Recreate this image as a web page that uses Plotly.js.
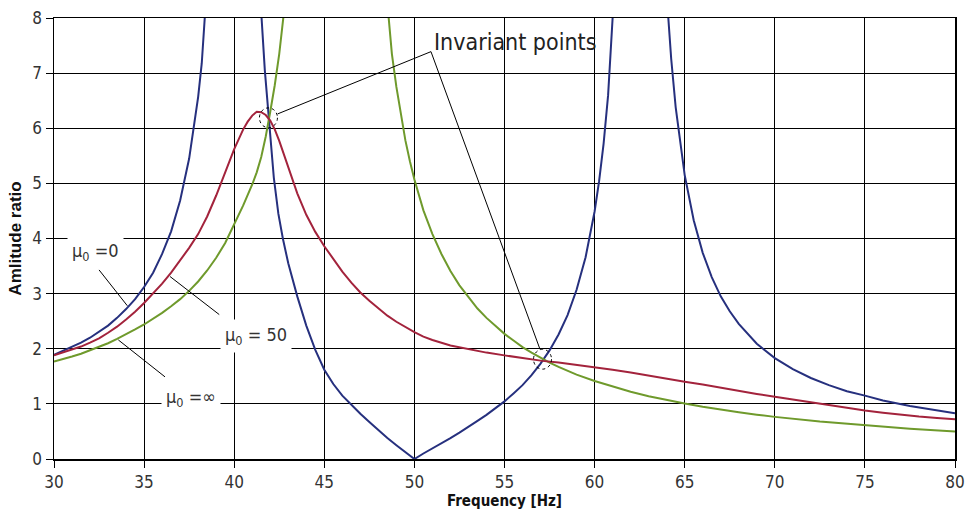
<!DOCTYPE html>
<html>
<head>
<meta charset="utf-8">
<script src="https://cdn.plot.ly/plotly-3.0.1.min.js"></script>
<style>html,body{margin:0;padding:0;background:#fff;}#chart{width:967px;height:513px;}</style>
</head>
<body>
<div id="chart"></div>
<script>
// Frequency values (Hz) and amplitude ratios
const xMu0 = [30,30.5,31,31.5,32,32.5,33,33.5,34,34.5,35,35.5,36,36.5,37,37.5,38,38.2,38.5,38.8,39,null,
  41.35,41.5,41.7,41.9,42.0,42.1,42.2,42.45,42.7,43.0,43.5,44,44.5,45,45.5,46,46.5,47,47.5,48,48.5,49,49.5,50,
  50.5,51,51.5,52,52.5,53,53.5,54,54.5,55,55.5,56,56.5,57,57.5,58,58.5,59,59.5,60,60.25,60.5,60.75,61,61.25,61.5,null,
  63.5,63.75,64,64.25,64.5,65,65.5,66,66.5,67,67.5,68,69,70,71,72,73,74,75,76,77.5,78.75,80];
const yMu0 = [1.89,1.96,2.03,2.11,2.20,2.31,2.42,2.56,2.72,2.90,3.12,3.38,3.72,4.13,4.69,5.45,6.57,7.18,8.39,10.15,11.86,null,
  9.2,8.1,7.05,6.2,5.82,5.45,5.1,4.45,4.0,3.55,2.95,2.42,1.98,1.62,1.36,1.15,0.98,0.82,0.67,0.52,0.38,0.25,0.12,0,
  0.10,0.19,0.29,0.38,0.48,0.58,0.69,0.80,0.92,1.045,1.19,1.34,1.52,1.73,1.97,2.26,2.61,3.07,3.66,4.49,5.04,5.72,6.6,7.77,9.4,11.85,null,
  12.5,10.05,8.42,7.26,6.38,5.15,4.33,3.74,3.30,2.95,2.68,2.45,2.09,1.83,1.63,1.47,1.34,1.23,1.15,1.06,0.96,0.89,0.83];

const xMu50 = [30,30.5,31,31.5,32,32.5,33,33.5,34,34.5,35,35.5,36,36.5,37,37.5,38,38.5,39,39.5,40,40.5,40.75,41,41.25,41.5,41.75,42,42.25,42.5,42.75,43,43.5,44,44.5,45,45.5,46,46.5,47,47.5,48,48.5,49,49.5,50,50.5,51,52,53,54,55,56,57.1,58,59,60,61,62,63,64,65,66,67,68,69,70,71,72,73,74,75,76,77,78,79,80];
const yMu50 = [1.88,1.93,1.98,2.04,2.11,2.19,2.29,2.40,2.53,2.67,2.83,3.00,3.18,3.38,3.60,3.83,4.08,4.40,4.78,5.20,5.62,5.98,6.12,6.23,6.30,6.29,6.24,6.14,5.98,5.77,5.53,5.28,4.82,4.43,4.12,3.86,3.62,3.40,3.20,3.02,2.87,2.73,2.60,2.49,2.39,2.30,2.22,2.16,2.06,1.99,1.93,1.88,1.83,1.78,1.75,1.71,1.67,1.62,1.57,1.51,1.46,1.40,1.35,1.29,1.24,1.18,1.13,1.08,1.03,0.98,0.92,0.88,0.84,0.80,0.77,0.745,0.72];

const xMuInf = [30,30.5,31,31.5,32,32.5,33,33.5,34,34.5,35,35.5,36,36.5,37,37.5,38,38.5,39,39.5,40,40.5,41,41.25,41.5,41.75,42,42.25,42.5,42.75,43,43.25,null,
  48.3,48.55,48.75,49,49.25,49.5,49.75,50,50.5,51,51.5,52,52.5,53,53.5,54,54.5,55,55.5,56,56.5,57,57.5,58,59,60,61,62,63,64,65,66,67,68,69,70,72.5,75,77.5,80];
const yMuInf = [1.77,1.81,1.86,1.91,1.97,2.03,2.10,2.18,2.26,2.35,2.44,2.54,2.65,2.77,2.90,3.05,3.22,3.42,3.65,3.92,4.25,4.6,4.98,5.2,5.48,5.85,6.3,6.78,7.35,8.0,8.8,9.8,null,
  9.0,8.0,7.35,6.75,6.22,5.78,5.4,5.07,4.51,4.08,3.72,3.41,3.15,2.93,2.73,2.56,2.41,2.27,2.15,2.03,1.93,1.835,1.75,1.67,1.53,1.414,1.31,1.22,1.14,1.07,1.005,0.946,0.894,0.847,0.804,0.764,0.679,0.609,0.550,0.500];

const xTicks = [30,35,40,45,50,55,60,65,70,75,80];
const yTicks = [0,1,2,3,4,5,6,7,8];

const narrow = "Liberation Sans Narrow, DejaVu Sans Condensed, Arial Narrow, Arial, sans-serif";

const traces = [
  {x: xMu0, y: yMu0, name: "μ0 = 0", mode: "lines", line: {color: "#26307e", width: 2}, connectgaps: false},
  {x: xMuInf, y: yMuInf, name: "μ0 = ∞", mode: "lines", line: {color: "#6f9a2c", width: 2}, connectgaps: false},
  {x: xMu50, y: yMu50, name: "μ0 = 50", mode: "lines", line: {color: "#a3233c", width: 2}}
];

const thin = {color: "#000", width: 1};
const layout = {
  width: 967, height: 513,
  margin: {l: 54, r: 12, t: 18, b: 54},
  paper_bgcolor: "#fff", plot_bgcolor: "#fff",
  showlegend: false,
  font: {family: narrow, color: "#333"},
  xaxis: {
    range: [30, 80], tickvals: xTicks, ticktext: xTicks.map(String),
    showgrid: true, gridcolor: "#000", gridwidth: 1, zeroline: false,
    showline: true, linecolor: "#000", linewidth: 1.5, mirror: true,
    ticks: "outside", ticklen: 7, tickcolor: "#000",
    tickfont: {family: narrow, size: 17, color: "#333"},
    title: {text: "Frequency [Hz]", standoff: 4, font: {family: narrow, size: 15, weight: "bold", color: "#111"}}
  },
  yaxis: {
    range: [0, 8], tickvals: yTicks, ticktext: yTicks.map(String),
    showgrid: true, gridcolor: "#000", gridwidth: 1, zeroline: false,
    showline: true, linecolor: "#000", linewidth: 1.5, mirror: true,
    ticks: "outside", ticklen: 7, tickcolor: "#000",
    tickfont: {family: narrow, size: 17, color: "#333"},
    title: {text: "Amlitude ratio", standoff: 6, font: {family: "Liberation Sans, Arial, sans-serif", size: 17, weight: "bold", color: "#111"}}
  },
  shapes: [
    {type: "circle", xref: "x", yref: "y", x0: 41.4, x1: 42.4, y0: 6.01, y1: 6.37, line: {color: "#000", width: 1, dash: "dot"}},
    {type: "circle", xref: "x", yref: "y", x0: 56.61, x1: 57.61, y0: 1.63, y1: 1.99, line: {color: "#000", width: 1, dash: "dot"}},
    {type: "line", xref: "x", yref: "y", x0: 50.92, y0: 7.39, x1: 42.41, y1: 6.26, line: thin},
    {type: "line", xref: "x", yref: "y", x0: 50.92, y0: 7.39, x1: 56.97, y1: 1.99, line: thin},
    {type: "line", xref: "x", yref: "y", x0: 32.50, y0: 3.43, x1: 34.07, y1: 2.78, line: thin},
    {type: "line", xref: "x", yref: "y", x0: 36.44, y0: 3.31, x1: 39.17, y1: 2.62, line: thin},
    {type: "line", xref: "x", yref: "y", x0: 33.57, y0: 2.16, x1: 36.16, y1: 1.49, line: thin}
  ],
  annotations: [
    {x: 50.98, y: 7.57, xref: "x", yref: "y", text: "Invariant points", showarrow: false, xanchor: "left", yanchor: "middle",
     font: {family: narrow, size: 23, color: "#222"}},
    {x: 32.33, y: 3.76, xref: "x", yref: "y", text: "μ<sub>0</sub> =0", showarrow: false, bgcolor: "#fff", borderpad: 4,
     font: {family: narrow, size: 18, color: "#333"}},
    {x: 41.21, y: 2.23, xref: "x", yref: "y", text: "μ<sub>0</sub> = 50", showarrow: false, bgcolor: "#fff", borderpad: 4,
     font: {family: narrow, size: 18, color: "#333"}},
    {x: 37.60, y: 1.11, xref: "x", yref: "y", text: "μ<sub>0</sub> =∞", showarrow: false, bgcolor: "#fff", borderpad: 4,
     font: {family: narrow, size: 18, color: "#333"}}
  ]
};

Plotly.newPlot("chart", traces, layout, {displayModeBar: false, staticPlot: true});
</script>
</body>
</html>
